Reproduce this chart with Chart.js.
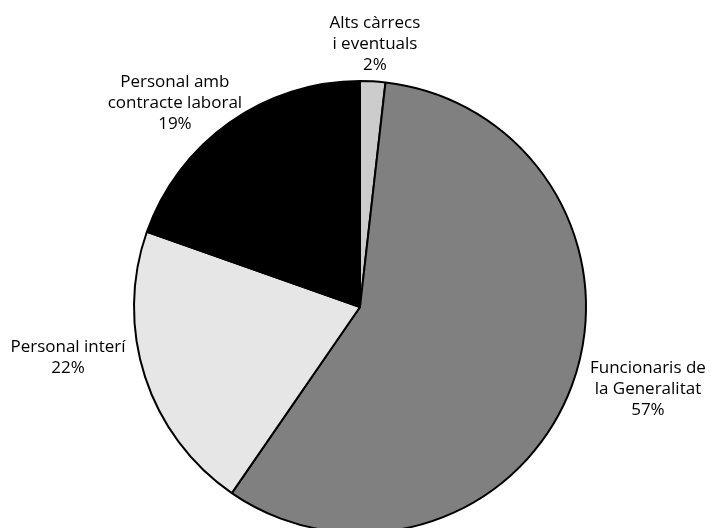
<!DOCTYPE html>
<html>
<head>
<meta charset="utf-8">
<script src="https://cdn.jsdelivr.net/npm/chart.js@4"></script>
<style>
  html, body { margin: 0; padding: 0; background: #fff; overflow: hidden; }
  #wrap { width: 711px; height: 540px; position: relative; }
</style>
</head>
<body>
<div id="wrap"><canvas id="chart"></canvas></div>
<script>
// data
const categories = [
  ['Alts càrrecs', 'i eventuals'],
  ['Funcionaris de', 'la Generalitat'],
  ['Personal interí'],
  ['Personal amb', 'contracte laboral']
];
// printed percentages
const printedPct = [2, 57, 22, 19];
const shares = [1.8, 57.8, 20.8, 19.6];
const sliceColors = ['#cccccc', '#808080', '#e6e6e6', '#000000'];

// where each label block sits, in radius units from the pie centre
const labelPos = [[0.066, -1.164], [1.274, 0.363], [-1.292, 0.226], [-0.819, -0.903]];

const outsideLabels = {
  id: 'outsideLabels',
  afterDraw(chart) {
    const ctx = chart.ctx;
    const meta = chart.getDatasetMeta(0);
    ctx.save();
    ctx.font = '17px "Open Sans", sans-serif';
    ctx.fillStyle = '#000';
    ctx.textAlign = 'center';
    ctx.textBaseline = 'middle';
    const lh = 21;
    meta.data.forEach((arc, i) => {
      const r = arc.outerRadius;
      const cx = arc.x + labelPos[i][0] * r;
      const cy = arc.y + labelPos[i][1] * r;
      const lines = categories[i].concat([printedPct[i] + '%']);
      const y0 = cy - (lines.length - 1) * lh / 2;
      lines.forEach((t, k) => ctx.fillText(t, cx, y0 + k * lh));
    });
    ctx.restore();
  }
};

new Chart(document.getElementById('chart'), {
  type: 'pie',
  data: {
    labels: categories.map(c => c.join(' ')),
    datasets: [{
      data: shares,
      backgroundColor: sliceColors,
      borderColor: '#000',
      borderWidth: 2
    }]
  },
  options: {
    responsive: true,
    maintainAspectRatio: false,
    animation: false,
    layout: { padding: { top: 80, bottom: 6, left: 133, right: 124 } },
    plugins: {
      legend: { display: false },
      tooltip: { enabled: false }
    }
  },
  plugins: [outsideLabels]
});
</script>
</body>
</html>
